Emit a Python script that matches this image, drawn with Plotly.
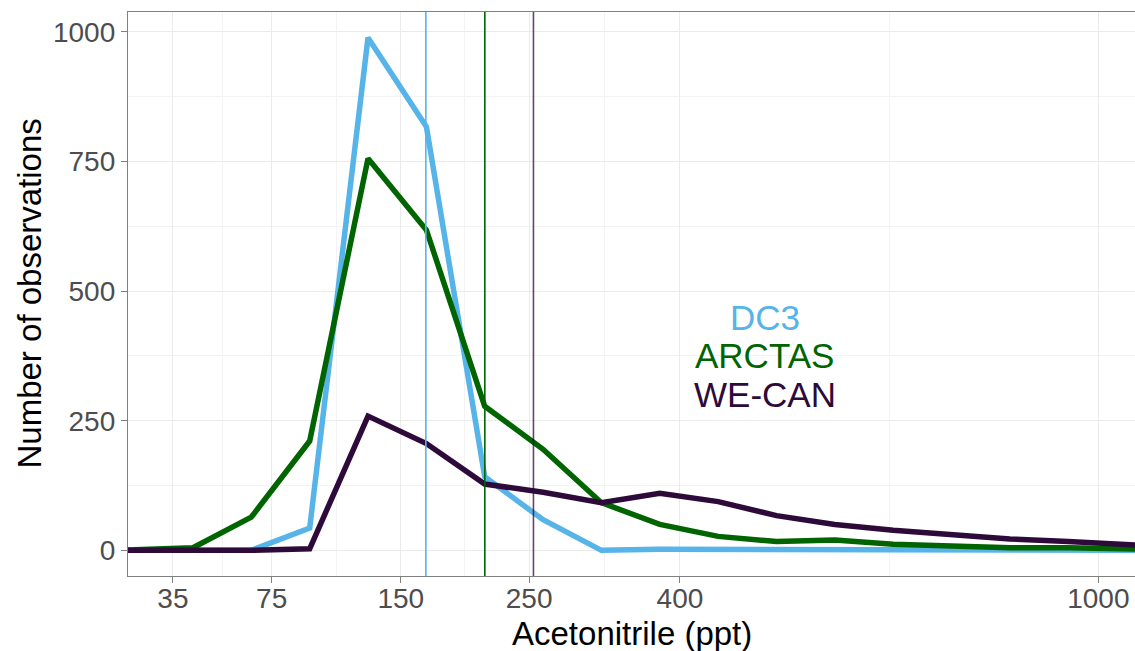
import numpy as np
import plotly.graph_objects as go

# Bin centres (ppt) and counts
x_ppt = [10.4, 23.5, 41.9, 65.5, 94.4, 128.5, 167.9, 212.5, 262.4, 317.5,
         377.9, 443.6, 514.5, 590.6, 672.1, 758.7, 850.7, 947.8, 1050.3, 1158]
dc3 = [0, 0, 0, 0, 43, 989, 817, 142, 59, 0, 2, 2, 2, 1, 1, 1, 1, 1, 0, 0]
arctas = [0, 1, 5, 64, 211, 756, 618, 278, 195, 92, 50, 27, 17, 20, 12, 8, 5, 5, 2, 1]
wecan = [0, 0, 0, 0, 3, 259, 206, 128, 112, 92, 110, 94, 67, 50, 39, 30, 22, 17, 10, 5]

campaigns = ["DC3", "ARCTAS", "WE-CAN"]
means = [167.5, 212.6, 253.8]
colors = ["#56B4E9", "#006400", "#2E0A3A"]
series = [dc3, arctas, wecan]

x_ticks = [35, 75, 150, 250, 400, 1000]
y_ticks = [0, 250, 500, 750, 1000]
x_limits = [21.8, 1065.4]
y_limits = [-49.45, 1038.5]
label_x = 500
label_y = [450, 375, 300]

FONT = "Liberation Sans, Arial, Helvetica, sans-serif"

sx = np.sqrt(np.array(x_ppt))
tick_s = np.sqrt(np.array(x_ticks, dtype=float))
minor_x = list((tick_s[:-1] + tick_s[1:]) / 2)
minor_y = [125, 375, 625, 875]

fig = go.Figure()
for name, vals, col in zip(campaigns, series, colors):
    fig.add_trace(go.Scatter(x=sx, y=vals, mode="lines", name=name,
                             line=dict(color=col, width=5.5),
                             showlegend=False, hoverinfo="x+y+name"))

for name, m, col in zip(campaigns, means, colors):
    fig.add_shape(type="line", xref="x", yref="paper",
                  x0=np.sqrt(m), x1=np.sqrt(m), y0=0, y1=1,
                  line=dict(color=col, width=1.6),
                  opacity=0.75 if name == "WE-CAN" else 1.0, layer="above")

for name, yv, col in zip(campaigns, label_y, colors):
    fig.add_annotation(x=np.sqrt(label_x), y=yv, xref="x", yref="y",
                       text=name, showarrow=False,
                       font=dict(size=35, color=col, family=FONT),
                       xanchor="center", yanchor="middle")

# axis titles
fig.add_annotation(x=0.5, y=-0.1028, xref="paper", yref="paper",
                   text="Acetonitrile (ppt)", showarrow=False,
                   font=dict(size=33, color="black", family=FONT),
                   xanchor="center", yanchor="middle")
fig.add_annotation(x=-0.0988, y=0.5, xref="paper", yref="paper",
                   text="Number of observations", showarrow=False, textangle=-90,
                   font=dict(size=33, color="black", family=FONT),
                   xanchor="center", yanchor="middle")

axis_common = dict(showline=True, linecolor="#808080", linewidth=1.3, mirror=True,
                   ticks="outside", ticklen=6, tickcolor="#808080", tickwidth=1.3,
                   gridcolor="#EBEBEB", gridwidth=1.3, zeroline=False,
                   automargin=False,
                   tickfont=dict(size=28, color="#4D4D4D", family=FONT))

fig.update_xaxes(range=[np.sqrt(x_limits[0]), np.sqrt(x_limits[1])],
                 tickmode="array", tickvals=list(tick_s),
                 ticktext=[str(t) for t in x_ticks],
                 ticklabelstandoff=-9,
                 minor=dict(tickvals=minor_x, showgrid=True, gridcolor="#F3F3F3",
                            gridwidth=1, ticks=""),
                 **axis_common)
fig.update_yaxes(range=y_limits, tickmode="array", tickvals=y_ticks,
                 ticktext=[str(t) for t in y_ticks],
                 minor=dict(tickvals=minor_y, showgrid=True, gridcolor="#F3F3F3",
                            gridwidth=1, ticks=""),
                 **axis_common)

fig.update_layout(width=1135, height=651, plot_bgcolor="white", paper_bgcolor="white",
                  margin=dict(l=128, r=0, t=12, b=75))

fig.write_html("out.html", config={"displayModeBar": False},
               post_script="document.body.style.margin='0px';"
                           "document.body.style.overflow='hidden';")
